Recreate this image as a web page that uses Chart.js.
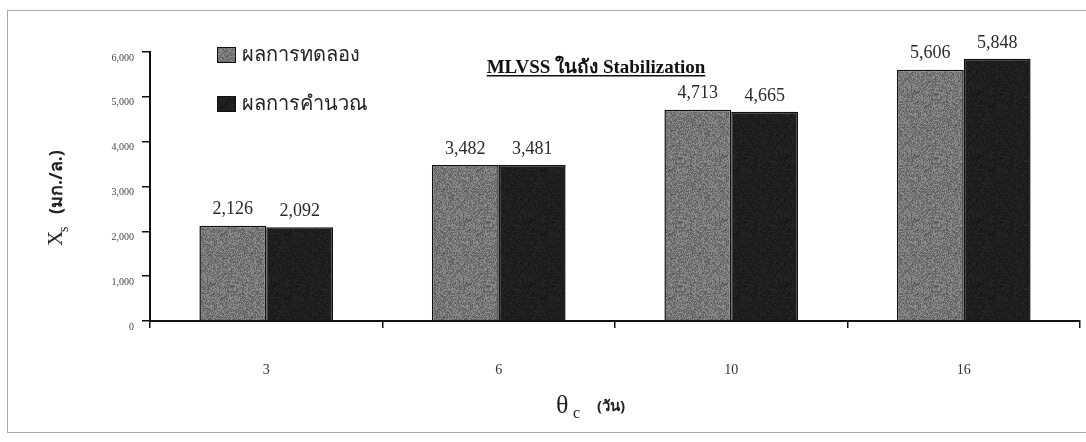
<!DOCTYPE html>
<html>
<head>
<meta charset="utf-8">
<script src="https://cdn.jsdelivr.net/npm/chart.js@4/dist/chart.umd.min.js"></script>
<style>
  html, body { margin: 0; padding: 0; background: #fff; }
  #wrap { width: 1086px; height: 442px; }
</style>
</head>
<body>
<div id="wrap"><canvas id="mlvssChart" width="1086" height="442"></canvas></div>
<script>
// Sludge age (days) and MLVSS in the stabilization tank
const ageLabels = ['3', '6', '10', '16'];
const measured = [2126, 3482, 4713, 5606];
const calculated = [2092, 3481, 4665, 5848];
const seriesNames = ['ผลการทดลอง', 'ผลการคำนวณ'];
const yTicks = [0, 1000, 2000, 3000, 4000, 5000, 6000];

const serif = "'Liberation Serif', 'DejaVu Serif', serif";
const thai = "'Noto Sans', 'DejaVu Sans', sans-serif";

// grainy fill like a scanned halftone, deterministic hash
function grainPattern(base, spread) {
    const c = document.createElement('canvas');
    c.width = 64; c.height = 64;
    const g = c.getContext('2d');
    const img = g.createImageData(64, 64);
    for (let i = 0; i < 64 * 64; i++) {
        let h = (i * 2654435761) >>> 0;
        h ^= h >>> 13; h = Math.imul(h, 1274126177) >>> 0; h ^= h >>> 16;
        const v = Math.max(0, Math.min(255, base + ((h & 255) / 255 - 0.5) * 2 * spread));
        img.data[i * 4] = v; img.data[i * 4 + 1] = v; img.data[i * 4 + 2] = v; img.data[i * 4 + 3] = 255;
    }
    g.putImageData(img, 0, 0);
    return g.createPattern(c, 'repeat');
}

const grayFill = grainPattern(118, 32);
const darkFill = grainPattern(30, 10);

const fmt = v => v.toLocaleString('en-US');

// value labels, title, legend, axis titles and page frame
const decorations = {
    id: 'decorations',
    afterDatasetsDraw(chart) {
        const ctx = chart.ctx;
        ctx.save();
        ctx.fillStyle = '#2a2a2a';
        ctx.font = '18px ' + serif;
        ctx.textAlign = 'center';
        ctx.textBaseline = 'bottom';
        chart.data.datasets.forEach((ds, di) => {
            chart.getDatasetMeta(di).data.forEach((bar, i) => {
                ctx.fillText(fmt(ds.data[i]), bar.x, bar.y - 7);
            });
        });
        ctx.restore();
    },
    afterDraw(chart) {
        const ctx = chart.ctx;
        ctx.save();

        // frame
        ctx.strokeStyle = '#aaa';
        ctx.lineWidth = 1;
        ctx.strokeRect(7.5, 10.5, 1090, 422);

        // title
        ctx.fillStyle = '#111';
        ctx.font = 'bold 19px ' + serif;
        ctx.textAlign = 'center';
        ctx.textBaseline = 'alphabetic';
        const title = 'MLVSS ในถัง Stabilization';
        const tw = ctx.measureText(title).width;
        ctx.fillText(title, 596, 73);
        ctx.fillRect(596 - tw / 2, 75, tw, 1.5);

        // legend
        const fills = [grayFill, darkFill];
        ctx.textAlign = 'left';
        ctx.textBaseline = 'middle';
        ctx.font = '20px ' + thai;
        [55, 104].forEach((y, i) => {
            ctx.fillStyle = fills[i];
            ctx.fillRect(217, y - 8, 19, 16);
            ctx.strokeStyle = '#111';
            ctx.lineWidth = 1;
            ctx.strokeRect(217.5, y - 7.5, 18, 15);
            ctx.fillStyle = '#222';
            ctx.fillText(seriesNames[i], 242, y);
        });

        // x axis title
        ctx.fillStyle = '#222';
        ctx.textBaseline = 'alphabetic';
        ctx.font = '26px ' + serif;
        ctx.fillText('θ', 556, 413);
        ctx.font = '16px ' + serif;
        ctx.fillText('c', 573, 418);
        ctx.font = 'bold 15px ' + thai;
        ctx.fillText('(วัน)', 597, 411);

        // y axis title, rotated
        ctx.translate(62, 188);
        ctx.rotate(-Math.PI / 2);
        ctx.textAlign = 'left';
        ctx.font = '21px ' + serif;
        ctx.fillStyle = '#222';
        ctx.fillText('X', -58, 0);
        ctx.font = '14px ' + serif;
        ctx.fillText('s', -44, 6);
        ctx.font = 'bold 18px ' + thai;
        ctx.fillText('(มก./ล.)', -26, 0);
        ctx.restore();
    }
};

new Chart(document.getElementById('mlvssChart'), {
    type: 'bar',
    data: {
        labels: ageLabels,
        datasets: [
            {
                label: seriesNames[0],
                data: measured,
                backgroundColor: grayFill,
                borderColor: '#111',
                borderWidth: 1.5,
                borderSkipped: 'bottom'
            },
            {
                label: seriesNames[1],
                data: calculated,
                backgroundColor: darkFill,
                borderColor: '#111',
                borderWidth: 1.5,
                borderSkipped: 'bottom'
            }
        ]
    },
    options: {
        responsive: false,
        animation: false,
        layout: { padding: { top: 52, right: 6, left: 0, bottom: 0 } },
        datasets: { bar: { barPercentage: 1, categoryPercentage: 0.575 } },
        plugins: {
            legend: { display: false },
            title: { display: false },
            tooltip: { enabled: false }
        },
        scales: {
            x: {
                offset: true,
                grid: { display: true, drawOnChartArea: false, offset: true, tickLength: 7, color: '#111', lineWidth: 1.5 },
                border: { display: true, color: '#111', width: 2 },
                ticks: { color: '#333', font: { family: serif, size: 14 }, padding: 34 },
                afterFit: s => { s.height = 121; }
            },
            y: {
                min: 0,
                max: 6000,
                afterBuildTicks: s => { s.ticks = yTicks.map(v => ({ value: v })); },
                grid: { display: true, drawOnChartArea: false, tickLength: 8, color: '#111', lineWidth: 1.5 },
                border: { display: true, color: '#111', width: 2 },
                ticks: {
                    color: '#444',
                    font: { family: serif, size: 10 },
                    padding: 8,
                    labelOffset: 6,
                    callback: v => fmt(v)
                },
                afterFit: s => { s.width = 150; }
            }
        }
    },
    plugins: [decorations]
});
</script>
</body>
</html>
